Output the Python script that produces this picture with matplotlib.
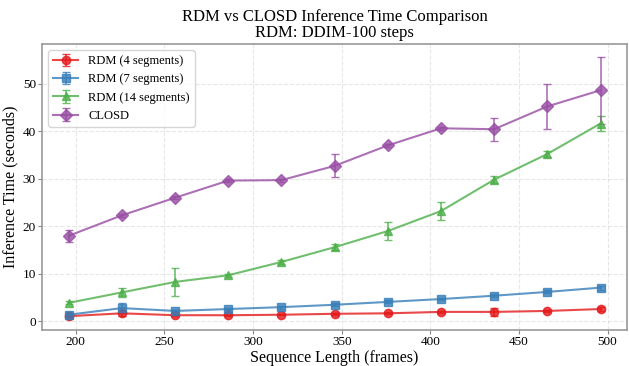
import numpy as np
import matplotlib
matplotlib.use("Agg")
from matplotlib import pyplot as plt

plt.rcParams['font.family'] = ['Liberation Serif', 'DejaVu Serif']

frames = [196, 226, 256, 286, 316, 346, 376, 406, 436, 466, 496]

rdm4 = [1.1, 1.7, 1.3, 1.3, 1.4, 1.6, 1.7, 2.0, 2.0, 2.2, 2.6]
rdm4_err = [0.2, 0.5, 0.2, 0.1, 0.1, 0.2, 0.2, 0.2, 0.9, 0.2, 0.4]

rdm7 = [1.4, 2.8, 2.2, 2.6, 3.0, 3.5, 4.1, 4.7, 5.4, 6.2, 7.1]
rdm7_err = [0.3, 1.0, 0.3, 0.3, 0.3, 0.3, 0.3, 0.3, 0.3, 0.3, 0.4]

rdm14 = [3.9, 6.1, 8.3, 9.7, 12.5, 15.6, 19.0, 23.2, 29.8, 35.2, 41.6]
rdm14_err = [0.3, 1.0, 2.9, 0.3, 0.5, 0.6, 1.9, 1.9, 0.7, 0.7, 1.6]

closd = [18.0, 22.3, 26.0, 29.6, 29.7, 32.7, 37.0, 40.6, 40.4, 45.2, 48.6]
closd_err = [1.3, 0.3, 0.3, 0.3, 0.3, 2.4, 0.3, 0.3, 2.4, 4.7, 7.0]

series = [
    ('RDM (4 segments)', rdm4, rdm4_err, '#e41a1c', 'o'),
    ('RDM (7 segments)', rdm7, rdm7_err, '#377eb8', 's'),
    ('RDM (14 segments)', rdm14, rdm14_err, '#4daf4a', '^'),
    ('CLOSD', closd, closd_err, '#984ea3', 'D'),
]

fig, ax = plt.subplots(figsize=(6.29, 3.66), dpi=100)

for label, vals, err, col, mk in series:
    ax.errorbar(frames, vals, yerr=err, label=label, color=col, marker=mk,
                markersize=6, linewidth=1.5, capsize=3, elinewidth=1.2,
                alpha=0.8)

ax.set_title('RDM vs CLOSD Inference Time Comparison\nRDM: DDIM-100 steps',
             fontsize=12, linespacing=1.0, pad=5)
ax.set_xlabel('Sequence Length (frames)', fontsize=11.5, labelpad=1)
ax.set_ylabel('Inference Time (seconds)', fontsize=11.5, labelpad=3)
ax.tick_params(labelsize=9.5, color='#888888', length=3, pad=1.5)
ax.grid(True, linestyle='--', alpha=0.3)
for s in ax.spines.values():
    s.set_color('#999999')
    s.set_linewidth(1.2)
ax.legend(loc='upper left', fontsize=9)

plt.subplots_adjust(left=0.067, right=0.997, top=0.88, bottom=0.098)
plt.savefig('out.png', dpi=100)
